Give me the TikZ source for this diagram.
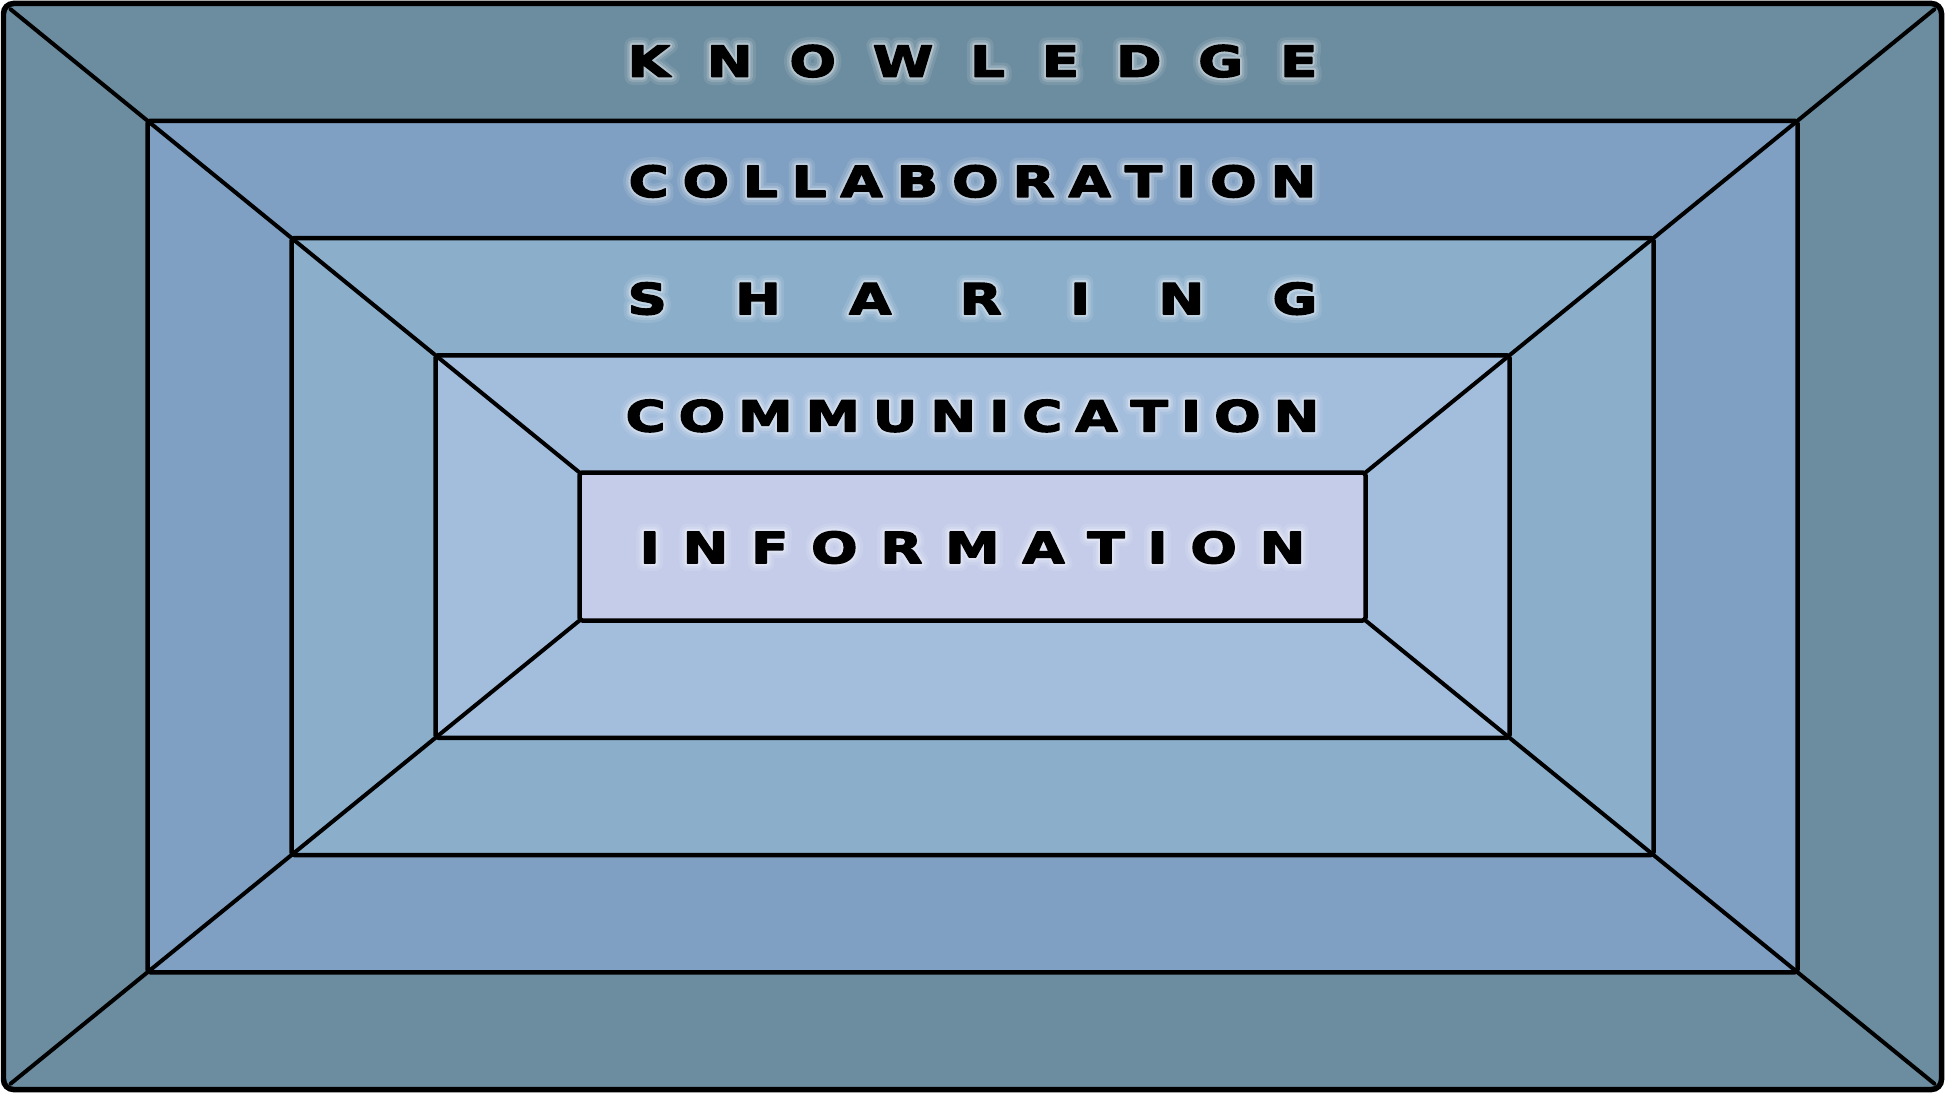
\documentclass[tikz,border=0pt]{standalone}
\usepackage{fontspec}
\usepackage{tikz}
\usetikzlibrary{calc}
\newfontfamily\layerfont[FakeStretch=1.28]{DejaVu Sans Bold}

\definecolor{ringA}{HTML}{6C8C9F}
\definecolor{ringB}{HTML}{7FA0C2}
\definecolor{ringC}{HTML}{8BAECB}
\definecolor{ringD}{HTML}{A3BDDC}
\definecolor{ringE}{HTML}{C5CCE9}

% outline rendering of the letters (halo and heavy weight)
\newcommand{\halo}[1]{\special{pdf:literal direct 1 Tr #1 w 1 J 1 j 1 1 1 RG}}
\newcommand{\heavy}{\special{pdf:literal direct 2 Tr 0.4 w 1 j 0 0 0 RG}}
\newcommand{\plain}{\special{pdf:literal direct 0 Tr}}

\tikzset{
  layer/.style={draw=black, line width=0.045cm, rounded corners=0.03cm, inner sep=0pt, outer sep=0pt},
  diag/.style={line width=0.04cm, line cap=round},
  word/.style={font=\layerfont\fontsize{12.2}{14}\selectfont, inner sep=0pt},
  glow/.style={word, draw opacity=#1},
}

\newcommand{\layerword}[4]{%
  \node[glow=0.1] (#1-wide) at (#2) {\halo{4.6}\makebox[#3][s]{#4}\plain};
  \node[glow=0.16] (#1-outer) at (#2) {\halo{3}\makebox[#3][s]{#4}\plain};
  \node[glow=0.3] (#1-inner) at (#2) {\halo{1.6}\makebox[#3][s]{#4}\plain};
  \node[word] (#1) at (#2) {\heavy\makebox[#3][s]{#4}\plain};
}

\begin{document}
\begin{tikzpicture}
\useasboundingbox (0,0) rectangle (19.46,-10.94);
\coordinate (c) at (9.725,-5.465);
\node[layer, fill=ringA, line width=0.055cm, rounded corners=0.1cm, minimum width=19.38cm, minimum height=10.86cm] (r1) at (c) {};
\node[layer, fill=ringB, minimum width=16.5cm, minimum height=8.515cm] (r2) at (c) {};
\node[layer, fill=ringC, minimum width=13.62cm, minimum height=6.17cm] (r3) at (c) {};
\node[layer, fill=ringD, minimum width=10.74cm, minimum height=3.825cm] (r4) at (c) {};
\node[layer, fill=ringE, minimum width=7.86cm, minimum height=1.48cm] (r5) at (c) {};
\foreach \k in {north west,north east,south west,south east}
  \draw[diag] ($(r1.\k)!0.05!(r2.\k)$) -- (r5.\k);
\coordinate (t1) at ($(r1.north)!0.5!(r2.north)+(0,0.01)$);
\foreach \i/\j in {2/3,3/4,4/5}
  \coordinate (t\i) at ($(r\i.north)!0.5!(r\j.north)+(0,-0.02)$);
\coordinate (t5) at ($(r5.center)+(0,-0.01)$);
\layerword{knowledge}{t1}{6.9cm}{K\hfill N\hfill O\hfill W\hfill L\hfill E\hfill D\hfill G\hfill E}
\layerword{collaboration}{t2}{6.88cm}{C\hfill O\hfill L\hfill L\hfill A\hfill B\hfill O\hfill R\hfill A\hfill T\hfill I\hfill O\hfill N}
\layerword{sharing}{t3}{6.9cm}{S\hfill H\hfill A\hfill R\hfill I\hfill N\hfill G}
\layerword{communication}{t4}{6.94cm}{C\hfill O\hfill M\hfill M\hfill U\hfill N\hfill I\hfill C\hfill A\hfill T\hfill I\hfill O\hfill N}
\layerword{information}{t5}{6.66cm}{I\hfill N\hfill F\hfill O\hfill R\hfill M\hfill A\hfill T\hfill I\hfill O\hfill N}
\end{tikzpicture}
\end{document}
